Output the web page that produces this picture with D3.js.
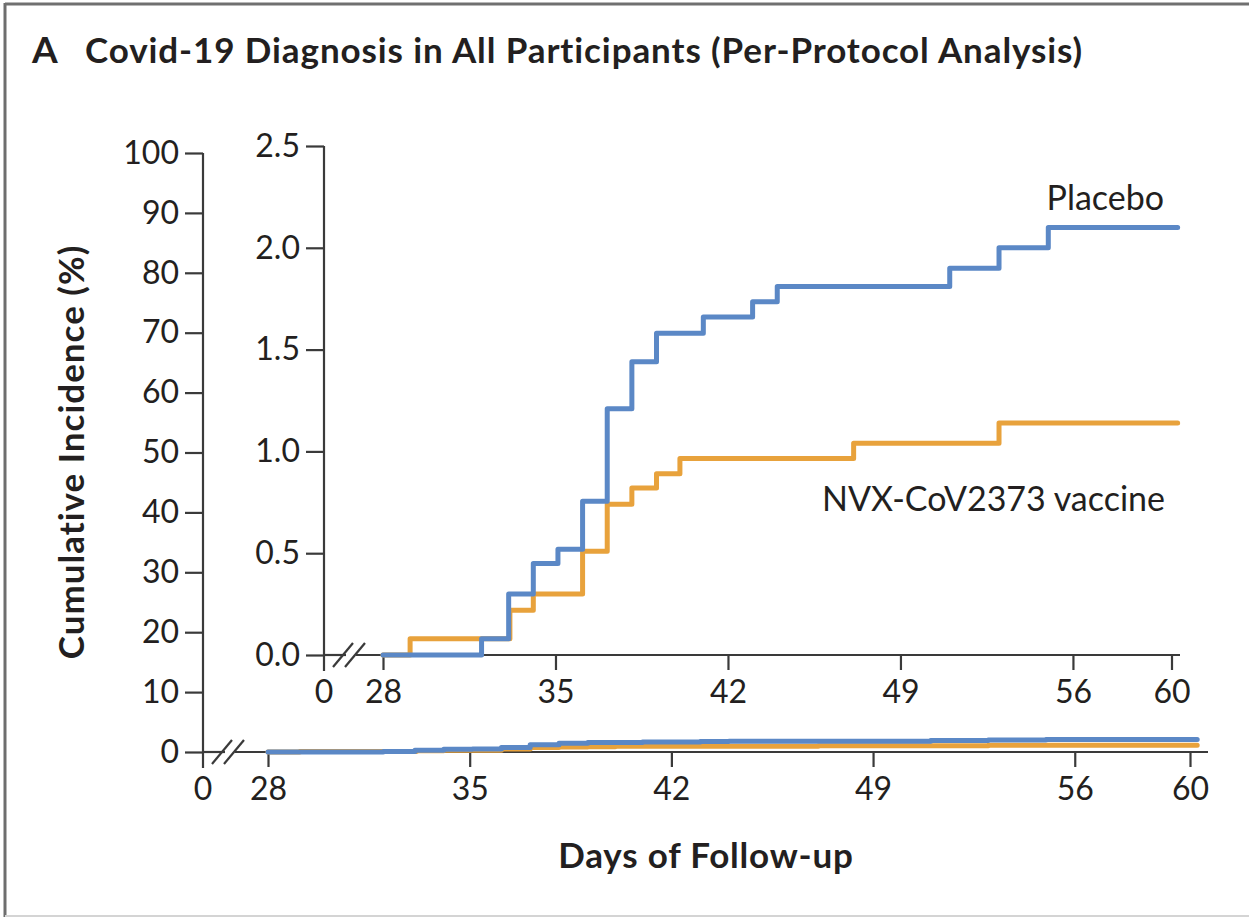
<!DOCTYPE html>
<html>
<head>
<meta charset="utf-8">
<script src="https://cdn.jsdelivr.net/npm/d3@7"></script>
<style>
  body { margin: 0; background: #fff; }
  svg { display: block; }
  text { font-family: Lato, "Liberation Sans", sans-serif; fill: #231f20; }
  .tick line, .axis-line { stroke: #3a3a3a; stroke-width: 2.2; }
  .tick text { font-size: 32px; }
  .title { font-weight: 700; }
</style>
</head>
<body>
<script>
// Step data (cumulative incidence, %)
const placeboDays   = [28, 32.0, 33.1, 34.1, 35.1, 36.1, 37.1, 38.1, 39.1, 41.0, 43.0, 44.0, 51.0, 53.0, 55.0, 60.25];
const placeboValues = [0, 0.08, 0.30, 0.45, 0.52, 0.755, 1.21, 1.44, 1.58, 1.66, 1.735, 1.81, 1.90, 2.0, 2.10, 2.10];
const vaccineDays   = [28, 29.1, 33.15, 34.1, 36.1, 37.1, 38.1, 39.1, 40.05, 47.1, 53.0, 60.25];
const vaccineValues = [0, 0.08, 0.22, 0.30, 0.51, 0.74, 0.82, 0.89, 0.965, 1.04, 1.14, 1.14];

const dayTicks   = [28, 35, 42, 49, 56, 60];
const outerTicks = [0, 10, 20, 30, 40, 50, 60, 70, 80, 90, 100];
const innerTicks = [0, 0.5, 1.0, 1.5, 2.0, 2.5];

const seriesNames = ["NVX-CoV2373 vaccine", "Placebo"];
const seriesColors = ["#e8a23c", "#5b88c6"];

const width = 1249, height = 917;

const svg = d3.select("body").append("svg")
    .attr("width", width)
    .attr("height", height);

// frame of the figure panel
svg.append("line").attr("x1", 5).attr("x2", 5).attr("y1", 3).attr("y2", height)
    .attr("stroke", "#6e6e6e").attr("stroke-width", 3);
svg.append("line").attr("x1", 5).attr("x2", width).attr("y1", 4).attr("y2", 4)
    .attr("stroke", "#707070").attr("stroke-width", 3);
svg.append("line").attr("x1", 5).attr("x2", width).attr("y1", 916).attr("y2", 916)
    .attr("stroke", "#d4d4d4").attr("stroke-width", 2);

// panel title
svg.append("text").attr("class", "title")
    .attr("x", 32).attr("y", 63)
    .style("font-size", "37px")
    .text("A");
svg.append("text").attr("class", "title")
    .attr("x", 85).attr("y", 63)
    .style("font-size", "35px")
    .style("letter-spacing", "0.9px")
    .text("Covid-19 Diagnosis in All Participants (Per-Protocol Analysis)");

// axis titles
svg.append("text").attr("class", "title")
    .attr("transform", "translate(84,452) rotate(-90)")
    .attr("text-anchor", "middle")
    .style("font-size", "35px")
    .style("letter-spacing", "1px")
    .text("Cumulative Incidence (%)");
svg.append("text").attr("class", "title")
    .attr("x", 706).attr("y", 868)
    .attr("text-anchor", "middle")
    .style("font-size", "35px")
    .style("letter-spacing", "0.8px")
    .text("Days of Follow-up");

// draws one panel: y axis, broken x axis, and both step curves
function drawPanel(cfg) {
  const g = svg.append("g");
  const x = d3.scaleLinear().domain([28, 60]).range(cfg.xRange);
  const y = d3.scaleLinear().domain(cfg.yDomain).range(cfg.yRange);
  const y0 = y(0);

  // y axis
  const yAxis = g.append("g")
      .attr("transform", `translate(${cfg.originX},0)`)
      .call(d3.axisLeft(y).tickValues(cfg.yTicks).tickFormat(cfg.yFormat).tickSize(18).tickPadding(6))
  yAxis.select(".domain").remove();
  g.append("line").attr("class", "axis-line")
      .attr("x1", cfg.originX).attr("x2", cfg.originX)
      .attr("y1", cfg.yRange[1]).attr("y2", y0 + 16);

  // x axis (with break between 0 and 28)
  const xAxis = g.append("g")
      .attr("transform", `translate(0,${y0})`)
      .call(d3.axisBottom(x).tickValues(dayTicks).tickSize(15).tickPadding(10));
  xAxis.select(".domain").remove();
  const b = cfg.originX + 26;
  g.append("line").attr("class", "axis-line")
      .attr("x1", cfg.originX).attr("x2", b - 4).attr("y1", y0).attr("y2", y0);
  g.append("line").attr("class", "axis-line")
      .attr("x1", b + 6).attr("x2", cfg.xEnd).attr("y1", y0).attr("y2", y0);
  [-7, 5].forEach(off => {
    g.append("line").attr("class", "axis-line")
        .attr("x1", b + off - 10).attr("y1", y0 + 12)
        .attr("x2", b + off + 10).attr("y2", y0 - 12);
  });
  g.append("text")
      .attr("x", cfg.originX).attr("y", y0 + 15 + 10)
      .attr("dy", "0.71em").attr("text-anchor", "middle")
      .style("font-size", "32px")
      .text("0");

  // step curves, vaccine underneath placebo
  const line = d3.line()
      .x(d => x(d[0]))
      .y(d => y(d[1]))
      .curve(d3.curveStepAfter);
  const curves = [d3.zip(vaccineDays, vaccineValues), d3.zip(placeboDays, placeboValues)];
  curves.forEach((pts, i) => {
    g.append("path")
        .datum(pts)
        .attr("d", line)
        .attr("fill", "none")
        .attr("stroke", seriesColors[i])
        .attr("stroke-width", 5)
        .attr("stroke-linejoin", "round")
        .attr("stroke-linecap", "round");
  });
  return { x, y };
}

// outer full-scale panel
drawPanel({
  xRange: [268, 1190], xEnd: 1208,
  yDomain: [0, 100], yRange: [752, 153],
  yTicks: outerTicks, yFormat: d3.format("d"),
  originX: 203
});

// inner zoomed panel
drawPanel({
  xRange: [383, 1171.5], xEnd: 1180,
  yDomain: [0, 2.5], yRange: [655, 146],
  yTicks: innerTicks, yFormat: d3.format(".1f"),
  originX: 324
});

// series labels
svg.append("text")
    .attr("x", 1164).attr("y", 210)
    .attr("text-anchor", "end")
    .style("font-size", "34px")
    .text(seriesNames[1]);
svg.append("text")
    .attr("x", 1165).attr("y", 511)
    .attr("text-anchor", "end")
    .style("font-size", "34px")
    .text(seriesNames[0]);
</script>
</body>
</html>
